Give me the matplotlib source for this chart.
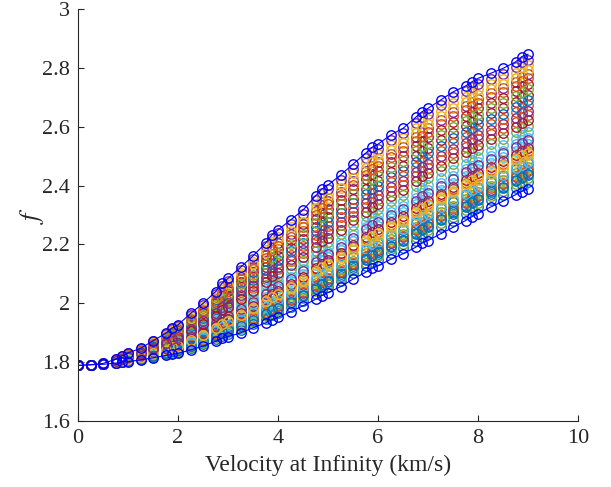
import matplotlib
matplotlib.use("Agg")
import matplotlib.pyplot as plt
import numpy as np

# Velocity grid (km/s)
velocity = [0, 0.25, 0.5, 0.75, 0.875,
            1.0, 1.25, 1.5, 1.75, 1.875,
            2.0, 2.25, 2.5, 2.75, 2.875,
            3.0, 3.25, 3.5, 3.75, 3.875,
            4.0, 4.25, 4.5, 4.75, 4.875,
            5.0, 5.25, 5.5, 5.75, 5.875,
            6.0, 6.25, 6.5, 6.75, 6.875,
            7.0, 7.25, 7.5, 7.75, 7.875,
            8.0, 8.25, 8.5, 8.75, 8.875,
            9.0]

# Lower envelope (blue)
f_lower = [1.788, 1.790, 1.792, 1.796, 1.799,
           1.801, 1.807, 1.814, 1.822, 1.826,
           1.829, 1.841, 1.854, 1.870, 1.880,
           1.886, 1.899, 1.916, 1.933, 1.944,
           1.952, 1.971, 1.991, 2.013, 2.026,
           2.036, 2.056, 2.082, 2.105, 2.118,
           2.127, 2.149, 2.168, 2.190, 2.204,
           2.213, 2.236, 2.258, 2.281, 2.294,
           2.305, 2.327, 2.347, 2.369, 2.380,
           2.389]

# Upper envelope (blue)
f_upper = [1.788, 1.791, 1.795, 1.809, 1.820,
           1.831, 1.846, 1.872, 1.897, 1.915,
           1.926, 1.965, 1.999, 2.039, 2.067,
           2.084, 2.122, 2.161, 2.204, 2.232,
           2.249, 2.283, 2.317, 2.365, 2.388,
           2.402, 2.436, 2.473, 2.510, 2.530,
           2.541, 2.572, 2.595, 2.632, 2.651,
           2.663, 2.691, 2.719, 2.739, 2.753,
           2.765, 2.782, 2.799, 2.821, 2.839,
           2.847]

# Relative position of each intermediate series between the envelopes
series_position = [0.10, 0.55, 0.22, 0.85, 0.16, 0.38, 0.70, 0.05, 0.28, 0.92,
                   0.13, 0.47, 0.33, 0.78, 0.19, 0.62, 0.25, 0.96, 0.08, 0.42,
                   0.30, 0.66, 0.14, 0.88, 0.36, 0.74, 0.20, 0.51, 0.11, 0.82,
                   0.27, 0.58]

matlab_colors = ["#0072BD", "#D95319", "#EDB120", "#7E2F8E",
                 "#77AC30", "#4DBEEE", "#A2142F"]

x_ticks = [0, 2, 4, 6, 8, 10]
y_ticks = [1.6, 1.8, 2.0, 2.2, 2.4, 2.6, 2.8, 3.0]
y_tick_labels = ["1.6", "1.8", "2", "2.2", "2.4", "2.6", "2.8", "3"]

plt.rcParams["font.family"] = ["Liberation Serif", "DejaVu Serif"]
plt.rcParams["mathtext.fontset"] = "stix"
textcol = "#262626"

fig = plt.figure(figsize=(6.11, 4.87), dpi=100)
ax = fig.add_axes([0.1277, 0.1361, 0.8183, 0.8448])

x = np.array(velocity)
lo = np.array(f_lower)
hi = np.array(f_upper)

ms = 6.8
mew = 1.0
for i, t in enumerate(series_position):
    y = lo + t * (hi - lo)
    ax.plot(x, y, linestyle="none", marker="o", markersize=ms,
            markerfacecolor="none", markeredgewidth=mew,
            color=matlab_colors[i % len(matlab_colors)])

for env in (lo, hi):
    ax.plot(x, env, "-o", color=(0, 0, 1), linewidth=0.8,
            markersize=ms, markerfacecolor="none", markeredgewidth=mew)

ax.set_xlim(0, 10)
ax.set_ylim(1.6, 3.0)
ax.set_xticks(x_ticks)
ax.set_yticks(y_ticks)
ax.set_yticklabels(y_tick_labels)

for s in ("top", "right"):
    ax.spines[s].set_visible(False)
for s in ("left", "bottom"):
    ax.spines[s].set_color(textcol)
    ax.spines[s].set_linewidth(0.8)

ax.tick_params(direction="in", length=4, width=0.8, colors=textcol,
               labelsize=16, labelcolor=textcol, pad=6)

ax.set_xlabel("Velocity at Infinity (km/s)", fontsize=17, color=textcol, labelpad=5)
ax.set_ylabel(r"$f$", fontsize=19, color=textcol, labelpad=-3)

fig.savefig("out.png", dpi=100)
